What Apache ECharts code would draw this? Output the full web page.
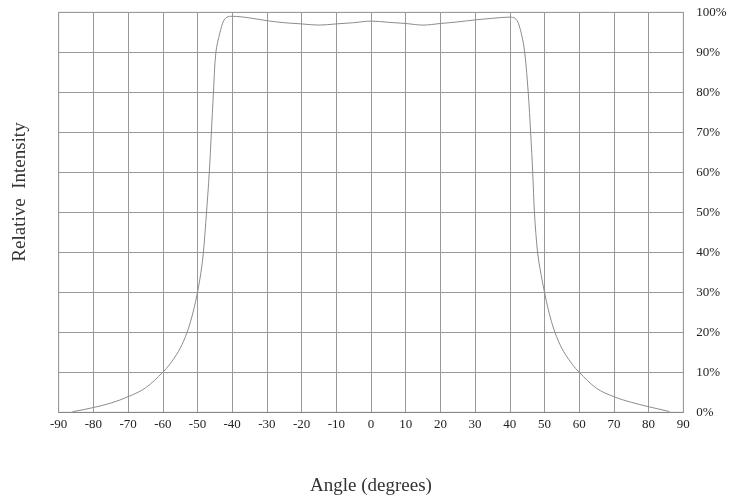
<!DOCTYPE html>
<html><head><meta charset="utf-8">
<script src="https://cdn.jsdelivr.net/npm/echarts@6/dist/echarts.min.js"></script>
<style>html,body{margin:0;padding:0;background:#fff}#c{width:741px;height:497px}</style>
</head><body><div id="c"></div>
<script>
const angles = [-86,-85,-80,-75,-70,-65,-60,-58,-56,-55,-54,-53,-52,-51,-50,-49,-48.3,-47.4,-46.6,-46,-45.4,-44.7,-43.5,-42.5,-41.5,-40,-35,-30,-25,-20,-15,-10,-5,0,5,10,15,20,25,30,35,40,41.5,42.5,43.5,44.3,45.3,46,46.6,47.1,48,49,50,51,52,53,54,55,56,58,60,65,70,75,80,85,86];
const intensity = [0.2,0.3,1.2,2.3,3.9,6.1,10,12,14.5,16,17.8,20,22.7,26,30,35,40,50,60,70,80,90,95,97.8,98.8,99,98.6,97.9,97.4,97.1,96.8,97.1,97.4,97.8,97.5,97.2,96.8,97.2,97.6,98.1,98.5,98.8,98.5,97.2,94,90,80,70,60,50,40,34.5,30,26,22.7,20,17.8,16,14.5,12,10,6,3.9,2.5,1.4,0.4,0.2];
const xTicks = [-90,-80,-70,-60,-50,-40,-30,-20,-10,0,10,20,30,40,50,60,70,80,90];
const yTicks = [0,10,20,30,40,50,60,70,80,90,100];
const xTitle = 'Angle (degrees)';
const yTitle = 'Relative  Intensity';

const chart = echarts.init(document.getElementById('c'));
const serif = '"Liberation Serif", "DejaVu Serif", serif';
chart.setOption({
  animation: false,
  grid: {left: 58.7, right: 57.7, top: 12.3, bottom: 84.7, show: true, borderColor: '#bbb', borderWidth: 1, outerBoundsMode: 'none', containLabel: false},
  xAxis: {
    type: 'value', min: xTicks[0], max: xTicks[xTicks.length-1], interval: 10,
    name: xTitle, nameLocation: 'middle', nameGap: 64,
    nameTextStyle: {fontFamily: serif, fontSize: 19, color: '#333'},
    axisLine: {show: true, lineStyle: {color: '#888'}},
    axisTick: {show: false},
    axisLabel: {fontFamily: serif, fontSize: 13, color: '#222', margin: 6},
    splitLine: {show: true, lineStyle: {color: '#999', width: 1}}
  },
  yAxis: {
    type: 'value', position: 'right', min: yTicks[0], max: yTicks[yTicks.length-1], interval: 10,
    axisLine: {show: false}, axisTick: {show: false},
    axisLabel: {fontFamily: serif, fontSize: 13, color: '#222', margin: 13, formatter: v => v + '%'},
    splitLine: {show: true, lineStyle: {color: '#999', width: 1}}
  },
  graphic: [{
    type: 'text', x: 20, y: 192, rotation: Math.PI/2,
    style: {text: yTitle, font: '19px ' + serif, fill: '#333', textAlign: 'center', textVerticalAlign: 'middle'}
  }],
  series: [{
    type: 'line', data: angles.map((a, i) => [a, intensity[i]]),
    showSymbol: false, smooth: 0.35,
    lineStyle: {color: '#8c8c8c', width: 1}
  }]
});
</script></body></html>
